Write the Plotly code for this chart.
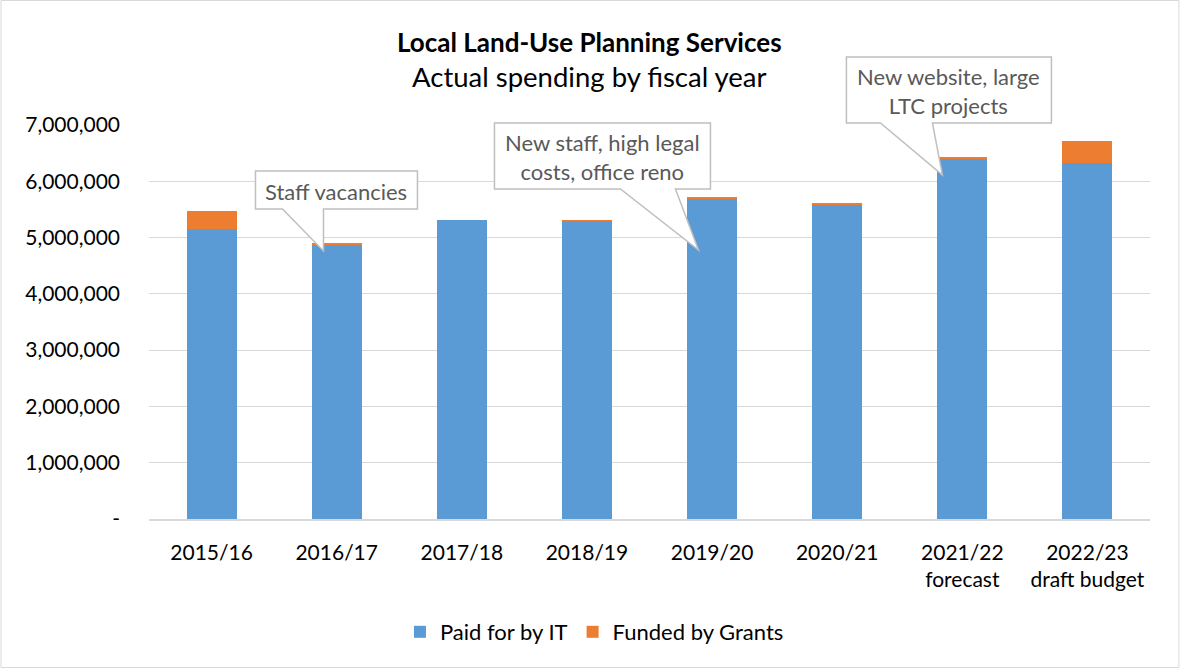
import plotly.graph_objects as go

categories = ["2015/16", "2016/17", "2017/18", "2018/19", "2019/20", "2020/21",
              "2021/22<br>forecast", "2022/23<br>draft budget"]
paid_it = [5160000, 4870000, 5310000, 5300000, 5700000, 5580000, 6400000, 6330000]
grants = [310000, 25000, 0, 10000, 10000, 30000, 20000, 380000]
tick_vals = [0, 1000000, 2000000, 3000000, 4000000, 5000000, 6000000, 7000000]
tick_text = ["-", "1,000,000", "2,000,000", "3,000,000", "4,000,000",
             "5,000,000", "6,000,000", "7,000,000"]

FONT = "Lato"
W, H = 1180, 669
PX0, PX1, PY0, PY1 = 148.5, 1149.6, 125, 519  # plot area pixel bounds


def px(x):
    return (x - PX0) / (PX1 - PX0)


def py(y):
    return (PY1 - y) / (PY1 - PY0)


fig = go.Figure()
fig.add_trace(go.Bar(x=categories, y=paid_it, name="Paid for by IT",
                     marker=dict(color="#5B9BD5", line=dict(width=0)), width=0.4))
fig.add_trace(go.Bar(x=categories, y=grants, name="Funded by Grants",
                     marker=dict(color="#ED7D31", line=dict(width=0)), width=0.4))

callouts = [
    # (left, top, right, bottom, wedge1, wedge2, tipx, tipy, text)
    (255, 171, 417, 209, 282, 323, 323, 251, "Staff vacancies"),
    (494, 123, 710, 189, 620, 675, 698, 250, "New staff, high legal<br>costs, office reno"),
    (846, 57, 1051, 123, 880, 932, 942, 175, "New website, large<br>LTC projects"),
]
shapes = []
annotations = []
for (l, t, r, b, w1, w2, tx, ty, txt) in callouts:
    path = (f"M {px(l)},{py(t)} L {px(r)},{py(t)} L {px(r)},{py(b)} "
            f"L {px(w2)},{py(b)} L {px(tx)},{py(ty)} L {px(w1)},{py(b)} "
            f"L {px(l)},{py(b)} Z")
    shapes.append(dict(type="path", path=path, xref="paper", yref="paper",
                       fillcolor="white", line=dict(color="#BFBFBF", width=1.5),
                       layer="above"))
    annotations.append(dict(x=px((l + r) / 2), y=py((t + b) / 2 + 1), xref="paper", yref="paper",
                            text=txt, showarrow=False, xanchor="center", yanchor="middle",
                            font=dict(family=FONT, size=22, color="#595959")))

# outer border
shapes.append(dict(type="rect", xref="paper", yref="paper",
                   x0=px(0.5), x1=px(W - 1.5), y0=py(H - 1.5), y1=py(0.5),
                   line=dict(color="#D9D9D9", width=1), fillcolor="rgba(0,0,0,0)",
                   layer="below"))

annotations.append(dict(x=px(589), y=py(42), xref="paper", yref="paper",
                        text="<b>Local Land-Use Planning Services</b>", showarrow=False,
                        xanchor="center", yanchor="middle",
                        font=dict(family=FONT, size=26, color="#000000")))
annotations.append(dict(x=px(589), y=py(76), xref="paper", yref="paper",
                        text="Actual spending by fiscal year", showarrow=False,
                        xanchor="center", yanchor="middle",
                        font=dict(family=FONT, size=27.5, color="#000000")))

fig.update_layout(
    width=W, height=H,
    barmode="stack",
    plot_bgcolor="white", paper_bgcolor="white",
    margin=dict(l=PX0, r=W - PX1, t=PY0, b=H - PY1, pad=0),
    font=dict(family=FONT, size=20, color="#000000"),
    showlegend=True,
    legend=dict(orientation="h", x=px(594), y=py(632), xanchor="center", yanchor="middle",
                font=dict(family=FONT, size=22, color="#000000"),
                traceorder="normal", itemwidth=30),
    shapes=shapes,
    annotations=annotations,
    bargap=0.6,
)
fig.update_xaxes(showgrid=False, showline=True, linecolor="#D9D9D9", linewidth=1.5,
                 ticks="", ticklabelstandoff=14, tickfont=dict(family=FONT, size=21))
fig.update_yaxes(range=[0, 7000000], tickvals=tick_vals, ticktext=tick_text,
                 showgrid=True, gridcolor="#D9D9D9", gridwidth=1, zeroline=False,
                 showline=False, ticks="", ticklabelstandoff=28,
                 tickfont=dict(family=FONT, size=21))

fig.write_html("out.html", config={"displayModeBar": False},
               post_script="document.body.style.margin='0';")
